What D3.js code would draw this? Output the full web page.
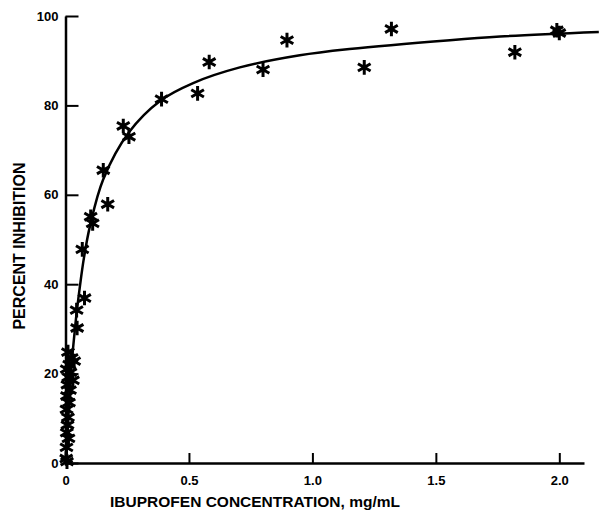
<!DOCTYPE html>
<html>
<head>
<meta charset="utf-8">
<script src="https://cdn.jsdelivr.net/npm/d3@7"></script>
<style>
  body { margin: 0; background: #fff; }
  text { font-family: "Liberation Sans", Arial, sans-serif; font-weight: bold; fill: #000; }
</style>
</head>
<body>
<svg id="chart" width="599" height="510"></svg>
<script>
'use strict';

// measured points: ibuprofen concentration (mg/mL) and percent inhibition
var conc = [ 1.99, 2.0, 1.82, 1.32, 1.21, 0.897, 0.80, 0.582, 0.535, 0.389,
  0.234, 0.257, 0.153, 0.171, 0.102, 0.110, 0.068, 0.077, 0.045, 0.047,
  0.010, 0.025, 0.035, 0.015, 0.005, 0.020, 0.012, 0.030, 0.008, 0.018,
  0.006, 0.014, 0.004, 0.010, 0.008, 0.005, 0.012, 0.004, 0.003, 0.006 ];
var inhib = [ 96.8, 96.2, 91.9, 97.1, 88.5, 94.6, 88.0, 89.7, 82.7, 81.4,
  75.4, 73.0, 65.5, 57.9, 55.1, 53.6, 47.8, 36.9, 34.2, 30.2,
  24.8, 23.5, 22.8, 22.0, 21.0, 20.3, 19.2, 18.5, 17.5, 16.3,
  15.0, 13.5, 12.0, 10.2, 8.5, 6.8, 5.5, 3.5, 1.0, 0.3 ];

// fitted curve
var fitConc = [ 0, 0.01, 0.022, 0.04, 0.059, 0.075, 0.099, 0.153, 0.257, 0.383,
  0.517, 0.706, 0.949, 1.15, 1.557, 1.76, 2.16 ];
var fitInhib = [ 0, 9.5, 20, 31, 39.8, 46, 53, 63.5, 74, 81,
  85, 88.5, 91.2, 92.6, 94.6, 95.4, 96.4 ];

var xTicks = [ 0, 0.5, 1.0, 1.5, 2.0 ];
var yTicks = [ 0, 20, 40, 60, 80, 100 ];

var svg = d3.select('#chart');

var x = d3.scaleLinear().domain([0, 2.1]).range([65.5, 584]);
var y = d3.scaleLinear().domain([0, 100]).range([463, 16]);

// y axis
svg.append('g')
  .attr('transform', 'translate(' + x(0) + ',0)')
  .call(d3.axisLeft(y).tickValues(yTicks).tickSizeInner(-13).tickSizeOuter(0).tickPadding(7));

// x axis
svg.append('g')
  .attr('transform', 'translate(0,' + y(0) + ')')
  .call(d3.axisBottom(x).tickValues(xTicks)
    .tickFormat(function(d) { return d === 0 ? '0' : d3.format('.1f')(d); })
    .tickSizeInner(-10).tickSizeOuter(0).tickPadding(13));

svg.selectAll('.domain').attr('stroke', '#000').attr('stroke-width', 2.5);
svg.selectAll('.tick line').attr('stroke', '#000').attr('stroke-width', 2);
svg.selectAll('.tick text').attr('font-size', 13).attr('font-family', null);

// fitted curve
var fit = fitConc.map(function(c, i) { return [c, fitInhib[i]]; });
var line = d3.line()
  .x(function(d) { return x(d[0]); })
  .y(function(d) { return y(d[1]); })
  .curve(d3.curveCatmullRom.alpha(0.5));

svg.append('path')
  .datum(fit)
  .attr('d', line)
  .attr('fill', 'none')
  .attr('stroke', '#000')
  .attr('stroke-width', 2.5);

// stars
var pts = conc.map(function(c, i) { return [c, inhib[i]]; });
var star = d3.symbol().type(d3.symbolAsterisk).size(150);

svg.append('g').selectAll('path')
  .data(pts)
  .enter().append('path')
  .attr('d', star)
  .attr('transform', function(d) { return 'translate(' + x(d[0]) + ',' + y(d[1]) + ')'; })
  .attr('fill', 'none')
  .attr('stroke', '#000')
  .attr('stroke-width', 3);

// axis titles
svg.append('text')
  .attr('x', 255)
  .attr('y', 507)
  .attr('text-anchor', 'middle')
  .attr('font-size', 15.5)
  .text('IBUPROFEN CONCENTRATION, mg/mL');

svg.append('text')
  .attr('transform', 'translate(25,246) rotate(-90)')
  .attr('text-anchor', 'middle')
  .attr('font-size', 16)
  .text('PERCENT INHIBITION');
</script>
</body>
</html>
